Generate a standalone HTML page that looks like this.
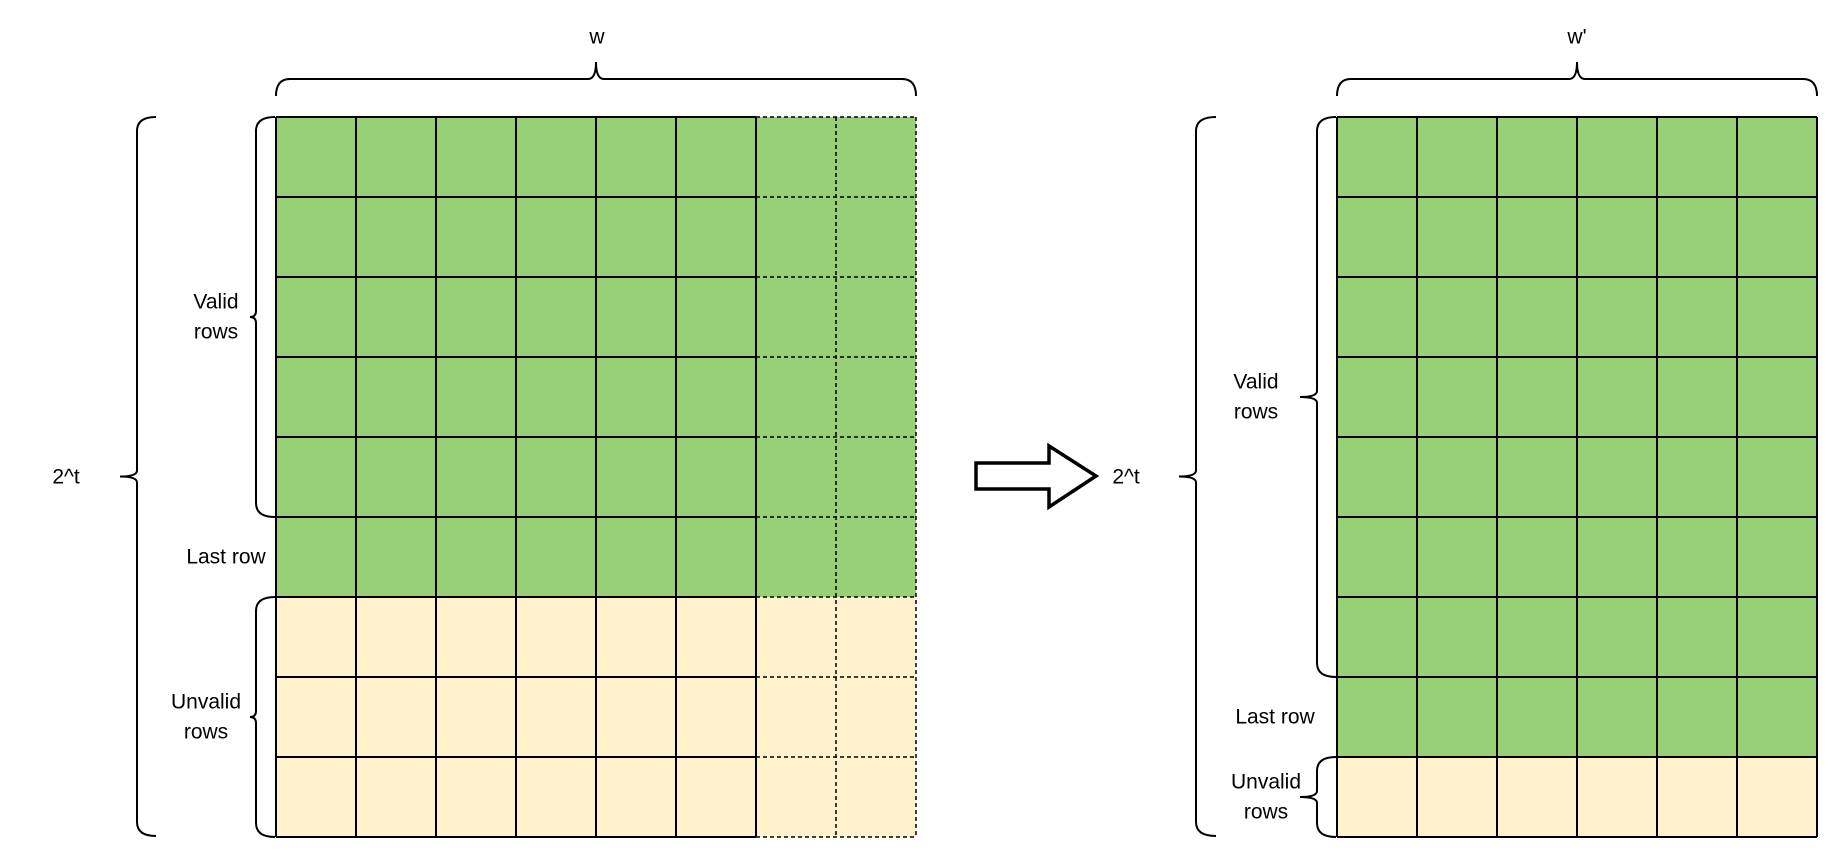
<!DOCTYPE html>
<html><head><meta charset="utf-8"><style>
html,body{margin:0;padding:0;background:#fff;width:1834px;height:854px;overflow:hidden}
svg text{font-family:"Liberation Sans",sans-serif;font-size:21px;fill:#000}
</style></head><body>
<svg id="s" width="1834" height="854" xmlns="http://www.w3.org/2000/svg"></svg>
<script>
const leftRowTypes = ['valid','valid','valid','valid','valid','last','unvalid','unvalid','unvalid'];
const rightRowTypes = ['valid','valid','valid','valid','valid','valid','valid','last','unvalid'];
const leftSolidCols = 6, leftDashedCols = 2, rightCols = 6;
const NS='http://www.w3.org/2000/svg', svgRoot=document.getElementById('s');
const cell=80, gridTop=117;
function el(tag,attrs,name,parent){const e=document.createElementNS(NS,tag);for(const k in attrs)e.setAttribute(k,attrs[k]);


(parent||svgRoot).appendChild(e);return e;}
function txt(x,y,t,name,anchor){const e=el('text',{x:x,y:y,'text-anchor':anchor||'middle','dominant-baseline':'central'},name);e.textContent=t;return e;}
function grid(x0,types,solid,dashed,prefix){
  const g=el('g',{},prefix+'-grid');
  const nc=solid+dashed;
  types.forEach((t,r)=>{for(let c=0;c<nc;c++){
    const fill=t==='unvalid'?'#fff2cc':'#97d077';
    el('rect',{x:x0+c*cell,y:gridTop+r*cell,width:cell,height:cell,fill:fill},prefix+'-cell',g);
  }});
  const xs=x0+solid*cell, xe=x0+nc*cell, yb=gridTop+types.length*cell;
  for(let r=0;r<=types.length;r++){const y=gridTop+r*cell;
    el('line',{x1:x0,y1:y,x2:xs,y2:y,stroke:'#000','stroke-width':2},prefix+'-row-line',g);
    if(dashed) el('line',{x1:xs,y1:y,x2:xe,y2:y,stroke:'#000','stroke-width':1.5,'stroke-dasharray':'4 3'},prefix+'-dashed-row-line',g);}
  for(let c=0;c<=nc;c++){const x=x0+c*cell;
    if(c<=solid) el('line',{x1:x,y1:gridTop,x2:x,y2:yb,stroke:'#000','stroke-width':2},prefix+'-col-line',g);
    else el('line',{x1:x,y1:gridTop,x2:x,y2:yb,stroke:'#000','stroke-width':1.5,'stroke-dasharray':'4 3'},prefix+'-dashed-col-line',g);}
}
function vbrace(xt,xl,xe,y1,y2,name){const ym=(y1+y2)/2,r=Math.min(14,(y2-y1)/4);
  el('path',{d:`M${xe},${y1} Q${xl},${y1} ${xl},${y1+r} L${xl},${ym-6} Q${xl},${ym} ${xt},${ym} Q${xl},${ym} ${xl},${ym+6} L${xl},${y2-r} Q${xl},${y2} ${xe},${y2}`,fill:'none',stroke:'#000','stroke-width':2},name);}
function hbrace(x1,x2,yt,yl,ye,name){const xm=(x1+x2)/2,r=14;
  el('path',{d:`M${x1},${ye} Q${x1},${yl} ${x1+r},${yl} L${xm-8},${yl} Q${xm},${yl} ${xm},${yt} Q${xm},${yl} ${xm+8},${yl} L${x2-r},${yl} Q${x2},${yl} ${x2},${ye}`,fill:'none',stroke:'#000','stroke-width':2},name);}
function rowsOf(types,t){const a=types.indexOf(t),b=types.lastIndexOf(t);return [gridTop+a*cell,gridTop+(b+1)*cell];}

// Left
grid(276,leftRowTypes,leftSolidCols,leftDashedCols,'left');
hbrace(276,276+(leftSolidCols+leftDashedCols)*cell,62,79,96,'width-brace-left');
txt(597,37,'w','width-label-left');
vbrace(120,137,156,117,836,'height-brace-left'); txt(66,477,'2^t','height-label-left');
let v=rowsOf(leftRowTypes,'valid'); vbrace(250,256,275,v[0],v[1],'valid-brace-left');
let vm=(v[0]+v[1])/2; txt(216,vm-15,'Valid','valid-label-left'); txt(216,vm+15,'rows','valid-label-left-2');
let l=rowsOf(leftRowTypes,'last'); txt(226,(l[0]+l[1])/2,'Last row','last-row-label-left');
let u=rowsOf(leftRowTypes,'unvalid'); vbrace(250,256,275,u[0],u[1],'unvalid-brace-left');
let um=(u[0]+u[1])/2; txt(206,um-15,'Unvalid','unvalid-label-left'); txt(206,um+15,'rows','unvalid-label-left-2');

// Arrow
el('path',{d:'M976,463 L1049,463 L1049,446 L1096,476 L1049,507 L1049,489 L976,489 Z',fill:'#fff',stroke:'#000','stroke-width':3.5,'stroke-linejoin':'miter'},'transform-arrow');

// Right
grid(1337,rightRowTypes,rightCols,0,'right');
hbrace(1337,1337+rightCols*cell,62,79,96,'width-brace-right');
txt(1577,37,"w'",'width-label-right');
vbrace(1179,1196,1216,117,836,'height-brace-right'); txt(1126,477,'2^t','height-label-right');
v=rowsOf(rightRowTypes,'valid'); vbrace(1300,1317,1336,v[0],v[1],'valid-brace-right');
vm=(v[0]+v[1])/2; txt(1256,vm-15,'Valid','valid-label-right'); txt(1256,vm+15,'rows','valid-label-right-2');
l=rowsOf(rightRowTypes,'last'); txt(1275,(l[0]+l[1])/2,'Last row','last-row-label-right');
u=rowsOf(rightRowTypes,'unvalid'); vbrace(1300,1317,1336,u[0],u[1],'unvalid-brace-right');
um=(u[0]+u[1])/2; txt(1266,um-15,'Unvalid','unvalid-label-right'); txt(1266,um+15,'rows','unvalid-label-right-2');
</script>
</body></html>
